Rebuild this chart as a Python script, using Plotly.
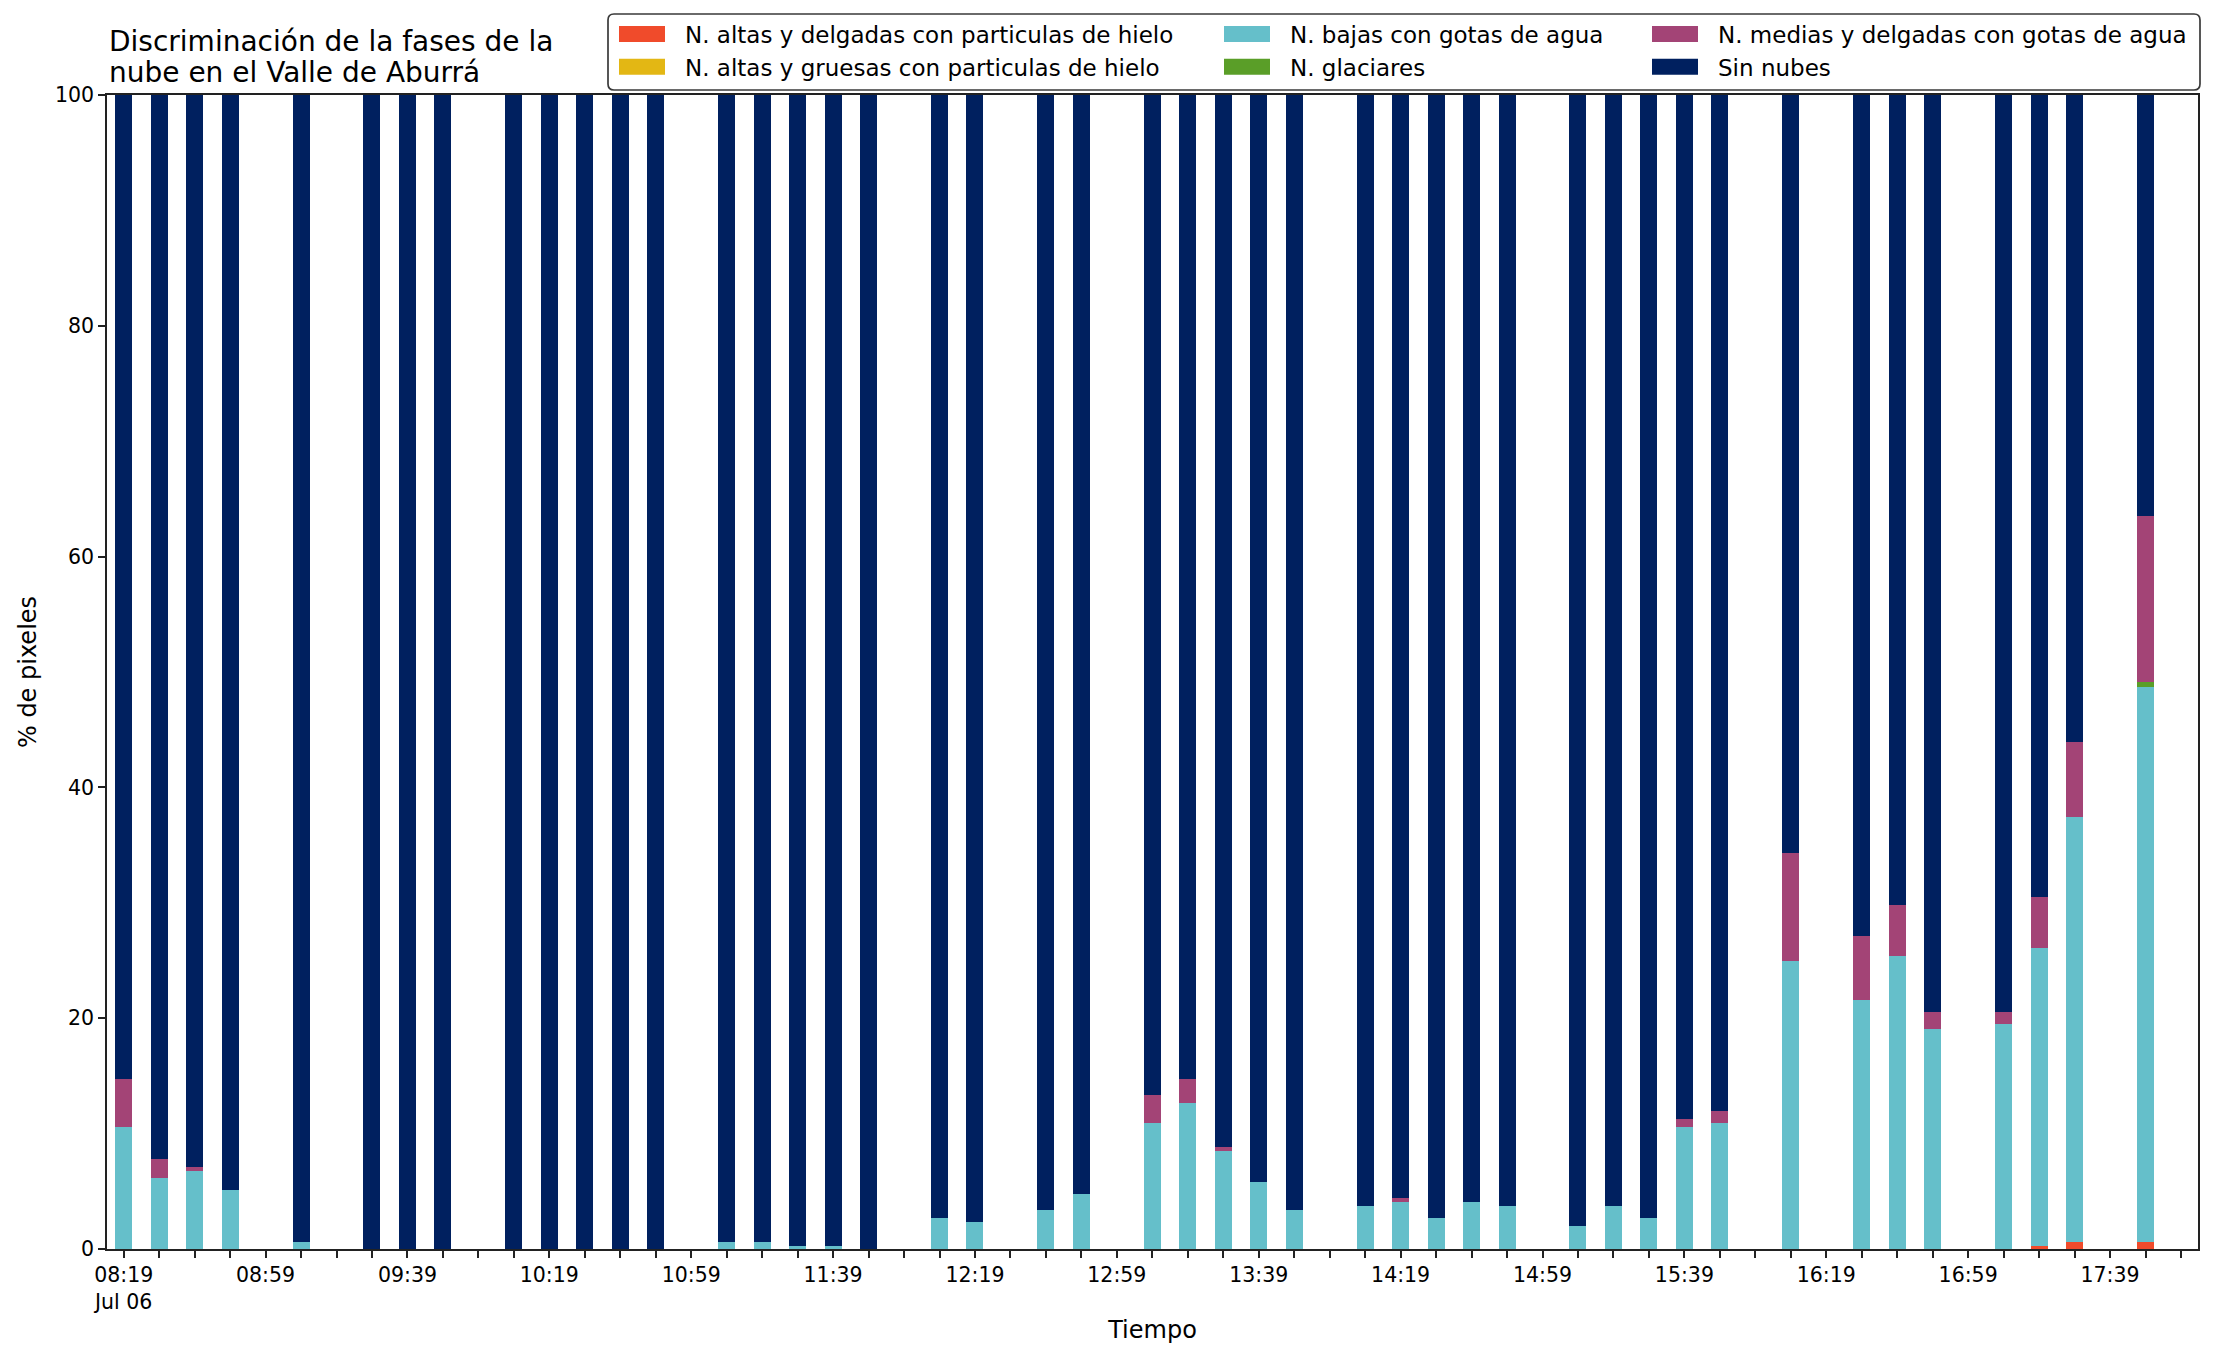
import plotly.graph_objects as go

# ---------------- data ----------------
day = "2019-07-06"
times = ["08:19", "08:29", "08:39", "08:49", "09:09", "09:29", "09:39", "09:49",
         "10:09", "10:19", "10:29", "10:39", "10:49", "11:09", "11:19", "11:29",
         "11:39", "11:49", "12:09", "12:19", "12:39", "12:49", "13:09", "13:19",
         "13:29", "13:39", "13:49", "14:09", "14:19", "14:29", "14:39", "14:49",
         "15:09", "15:19", "15:29", "15:39", "15:49", "16:09", "16:29", "16:39",
         "16:49", "17:09", "17:19", "17:29", "17:49"]

altas_delgadas = [0, 0, 0, 0, 0, 0, 0, 0,
                  0, 0, 0, 0, 0, 0, 0, 0,
                  0, 0, 0, 0, 0, 0, 0, 0,
                  0, 0, 0, 0, 0, 0, 0, 0,
                  0, 0, 0, 0, 0, 0, 0, 0,
                  0, 0, 0.27, 0.62, 0.62]
altas_gruesas = [0] * 45
bajas_agua = [10.59, 6.18, 6.78, 5.14, 0.63, 0, 0, 0,
              0, 0, 0, 0, 0, 0.63, 0.63, 0.29,
              0.29, 0, 2.71, 2.37, 3.41, 4.79, 10.94, 12.67,
              8.51, 5.83, 3.41, 3.75, 4.10, 2.71, 4.10, 3.75,
              2.02, 3.75, 2.71, 10.59, 10.94, 25.0, 21.6, 25.4,
              19.1, 19.5, 25.83, 36.8, 48.08]
glaciares = [0, 0, 0, 0, 0, 0, 0, 0,
             0, 0, 0, 0, 0, 0, 0, 0,
             0, 0, 0, 0, 0, 0, 0, 0,
             0, 0, 0, 0, 0, 0, 0, 0,
             0, 0, 0, 0, 0, 0, 0, 0,
             0, 0, 0, 0, 0.4]
medias_agua = [4.16, 1.64, 0.35, 0, 0, 0, 0, 0,
               0, 0, 0, 0, 0, 0, 0, 0,
               0, 0, 0, 0, 0, 0, 2.42, 2.08,
               0.35, 0, 0, 0, 0.34, 0, 0, 0,
               0, 0, 0, 0.69, 1.04, 9.3, 5.5, 4.4,
               1.4, 1.0, 4.4, 6.5, 14.4]
sin_nubes = [85.25, 92.18, 92.87, 94.86, 99.37, 100, 100, 100,
             100, 100, 100, 100, 100, 99.37, 99.37, 99.71,
             99.71, 100, 97.29, 97.63, 96.59, 95.21, 86.64, 85.25,
             91.14, 94.17, 96.59, 96.25, 95.56, 97.29, 95.90, 96.25,
             97.98, 96.25, 97.29, 88.72, 88.02, 65.7, 72.9, 70.2,
             79.5, 79.5, 69.5, 56.08, 36.5]

tick_times = ["08:19", "08:59", "09:39", "10:19", "10:59", "11:39", "12:19", "12:59",
              "13:39", "14:19", "14:59", "15:39", "16:19", "16:59", "17:39"]
tick_labels = ["08:19<br>Jul 06", "08:59", "09:39", "10:19", "10:59", "11:39", "12:19",
               "12:59", "13:39", "14:19", "14:59", "15:39", "16:19", "16:59", "17:39"]

series = [
    ("N. altas y delgadas con particulas de hielo", altas_delgadas, "#F04B2B", "legend"),
    ("N. altas y gruesas con particulas de hielo", altas_gruesas, "#E3B714", "legend"),
    ("N. bajas con gotas de agua", bajas_agua, "#65BFCA", "legend2"),
    ("N. glaciares", glaciares, "#5A9E28", "legend2"),
    ("N. medias y delgadas con gotas de agua", medias_agua, "#A34476", "legend3"),
    ("Sin nubes", sin_nubes, "#00205F", "legend3"),
]

# ---------------- figure ----------------
W, H = 2216, 1355
ML, MR, MT, MB = 107, 18, 95, 106
PW, PH = W - ML - MR, H - MT - MB
FONT = "DejaVu Sans"

x = [f"{day} {t}" for t in times]
fig = go.Figure()
for i, (name, vals, color, leg) in enumerate(series):
    fig.add_trace(go.Bar(
        x=x, y=vals, name=name, width=288000,
        marker=dict(color=color, line=dict(width=0)),
        legend=leg, legendgroup=f"g{i}",
    ))


def px_x(p):
    return (p - ML) / PW


def px_y(p):
    return 1 + (MT - p) / PH


ITEMW = 76
leg_common = dict(orientation="v", xanchor="left", yanchor="top",
                  bgcolor="rgba(0,0,0,0)", borderwidth=0, traceorder="normal",
                  font=dict(family=FONT, size=23, color="black"), itemwidth=ITEMW,
                  tracegroupgap=2, itemclick=False, itemdoubleclick=False)
TEXT_OFF = ITEMW + 10

# rounded legend frame
x0, x1 = px_x(608), px_x(2200)
yt, yb = px_y(14), px_y(90)
rx, ry = 6 / PW, 6 / PH
frame = (f"M {x0+rx},{yt} L {x1-rx},{yt} Q {x1},{yt} {x1},{yt-ry} "
         f"L {x1},{yb+ry} Q {x1},{yb} {x1-rx},{yb} L {x0+rx},{yb} "
         f"Q {x0},{yb} {x0},{yb+ry} L {x0},{yt-ry} Q {x0},{yt} {x0+rx},{yt} Z")

fig.update_layout(
    width=W, height=H,
    margin=dict(l=ML, r=MR, t=MT, b=MB, autoexpand=False),
    paper_bgcolor="white", plot_bgcolor="white",
    barmode="stack",
    font=dict(family=FONT, color="black"),
    showlegend=True,
    legend=dict(x=px_x(685 - TEXT_OFF), y=px_y(12.5), **leg_common),
    legend2=dict(x=px_x(1290 - TEXT_OFF), y=px_y(12.5), **leg_common),
    legend3=dict(x=px_x(1718 - TEXT_OFF), y=px_y(12.5), **leg_common),
    shapes=[dict(type="path", xref="paper", yref="paper", path=frame,
                 line=dict(color="#3A3A3A", width=1.7), fillcolor="rgba(255,255,255,0.8)",
                 layer="below")],
    annotations=[
        dict(text="Discriminación de la fases de la", xref="paper", yref="paper",
             x=0, y=px_y(41.3), xanchor="left", yanchor="middle", showarrow=False,
             font=dict(family=FONT, size=28, color="black")),
        dict(text="nube en el Valle de Aburrá", xref="paper", yref="paper",
             x=0, y=px_y(72.3), xanchor="left", yanchor="middle", showarrow=False,
             font=dict(family=FONT, size=28, color="black")),
    ],
    xaxis=dict(
        type="date",
        range=[f"{day} 08:14:18", f"{day} 18:03:48"],
        tickvals=[f"{day} {t}" for t in tick_times], ticktext=tick_labels,
        ticks="outside", ticklen=7, tickwidth=1.7, tickcolor="#222",
        tickfont=dict(family=FONT, size=20.5, color="black"),
        minor=dict(dtick=600000, tick0=f"{day} 08:19", ticks="outside", ticklen=7,
                   tickwidth=1.7, tickcolor="#222", showgrid=False),
        showline=True, linecolor="#222", linewidth=1.7, mirror=True,
        showgrid=False, zeroline=False,
        title=dict(text="Tiempo", font=dict(family=FONT, size=24, color="black"), standoff=8),
        automargin=False,
    ),
    yaxis=dict(
        range=[0, 100], tickvals=[0, 20, 40, 60, 80, 100],
        ticks="outside", ticklen=7, tickwidth=1.7, tickcolor="#222",
        tickfont=dict(family=FONT, size=20.5, color="black"),
        showline=True, linecolor="#222", linewidth=1.7, mirror=True,
        showgrid=False, zeroline=False,
        title=dict(text="% de pixeles", font=dict(family=FONT, size=24, color="black"), standoff=12),
        automargin=False,
    ),
)

# wide legend patches like the original figure (cosmetic tweak of legend symbols)
post = """
document.body.style.margin = '0';
var gd = document.querySelector('.plotly-graph-div');
function widenLegend() {
  var ps = gd.querySelectorAll('g.legendpoints path');
  ps.forEach(function (p) { p.setAttribute('d', 'M23,8H-23V-8H23Z'); });
}
widenLegend();
if (gd && gd.on) { gd.on('plotly_afterplot', widenLegend); }
setTimeout(widenLegend, 50);
setTimeout(widenLegend, 300);
"""

fig.write_html("out.html", config={"displayModeBar": False}, post_script=post)
